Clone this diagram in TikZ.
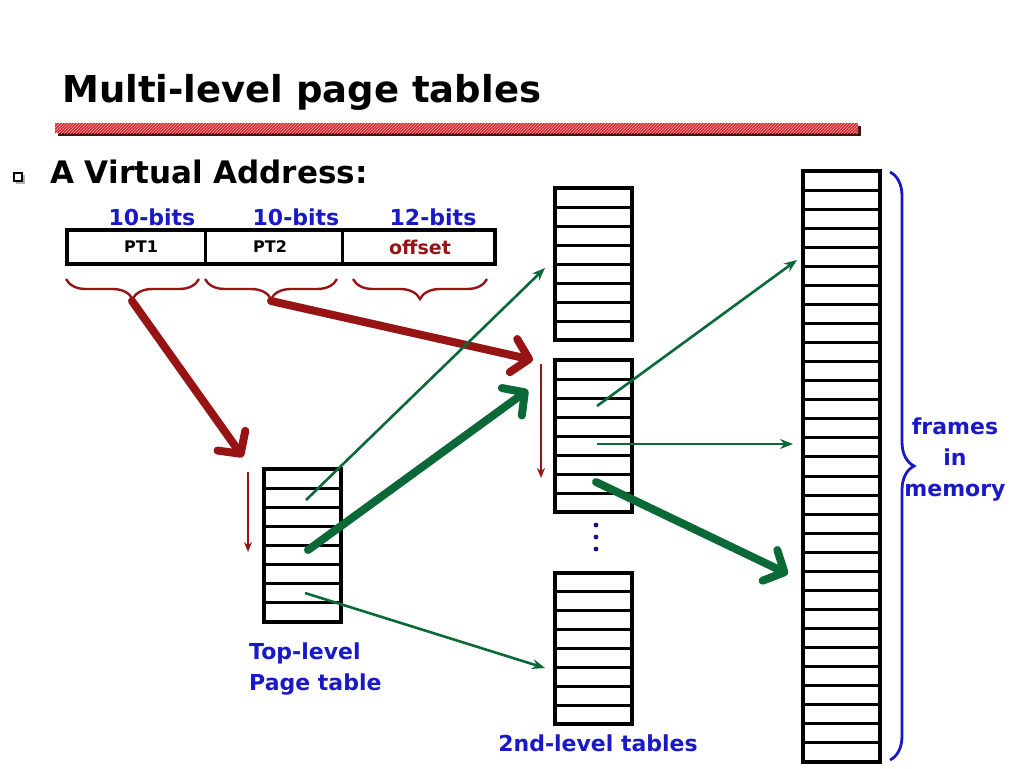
\documentclass[tikz,border=0pt]{standalone}
\usepackage{fontspec}
\setmainfont{DejaVu Sans}
\usetikzlibrary{arrows.meta,decorations.pathreplacing,patterns,calc}
\definecolor{dred}{RGB}{150,20,20}
\definecolor{dgreen}{RGB}{10,105,55}
\definecolor{lblue}{RGB}{25,25,200}
\definecolor{barred}{RGB}{205,45,50}
\definecolor{barpink}{RGB}{250,160,160}
\definecolor{barshadow}{RGB}{70,20,10}
\tikzset{
  tablebox/.style={draw, line width=3.4pt, inner sep=0pt, outer sep=0pt},
  rowline/.style={line width=3pt},
  thinred/.style={dred, line width=2.8pt, -{Stealth[length=10pt,width=8pt]}},
  thickred/.style={dred, line width=8pt, line cap=round, -{Straight Barb[length=16pt,width=34pt,round]}},
  thingreen/.style={dgreen, line width=2.6pt, -{Stealth[length=13pt,width=10pt]}},
  thickgreen/.style={dgreen, line width=8pt, line cap=round, -{Straight Barb[length=16pt,width=34pt,round]}},
  bluelabel/.style={text=lblue, font=\bfseries\fontsize{22}{31}\selectfont},
}
\newcommand\ptable[6]{%
  \node[tablebox, minimum width={(#4-#2)*1pt}, minimum height={(#5-#3)*1pt}] (#1) at ({(#2+#4)/2},{(#3+#5)/2}) {};
  \pgfmathtruncatemacro\nrowsm{#6-1}%
  \foreach \k in {1,...,\nrowsm} {
    \draw[rowline] ($(#1.north west)!\k/#6!(#1.south west)$) -- ($(#1.north east)!\k/#6!(#1.south east)$);
  }%
}
\begin{document}
\begin{tikzpicture}[x=1pt,y=-1pt]
\useasboundingbox (0,0) rectangle (1024,768);
\fill[white] (0,0) rectangle (1024,768);

% title
\node[anchor=base west, inner sep=0pt, font=\bfseries\fontsize{37}{42}\selectfont] (title) at (62,102) {Multi-level page tables};
\fill[barshadow] (58,126) rectangle (861,136);
\fill[barred] (55,123) rectangle (858,133);
\fill[pattern=north east lines, pattern color=barpink] (55,123) rectangle (858,133);

% bullet
\fill[gray!60] (16,175) rectangle (25,184);
\draw[line width=1.2pt, fill=white] (14,173) rectangle (22,181);
\node[anchor=base west, inner sep=0pt, font=\bfseries\fontsize{31}{34}\selectfont] (va) at (50,183) {A Virtual Address:};

% address box
\node[tablebox, minimum width=428pt, minimum height=34pt] (addr) at (281,247) {};
\draw[line width=3pt] (205,230) -- (205,264);
\draw[line width=3pt] (342,230) -- (342,264);
\node[font=\bfseries\fontsize{16}{20}\selectfont] (pt1) at (141,247) {PT1};
\node[font=\bfseries\fontsize{16}{20}\selectfont] (pt2) at (270,247) {PT2};
\node[font=\bfseries\fontsize{19}{22}\selectfont, text=dred] (off) at (420,247) {offset};
\node[bluelabel] (b1) at (152,217) {10-bits};
\node[bluelabel] (b2) at (296,217) {10-bits};
\node[bluelabel] (b3) at (433,217) {12-bits};

% red braces
\draw[dred, line width=2.4pt, decorate, decoration={brace, mirror, amplitude=20pt}] (66,279) -- (199,279);
\draw[dred, line width=2.4pt, decorate, decoration={brace, mirror, amplitude=20pt}] (205,279) -- (337,279);
\draw[dred, line width=2.4pt, decorate, decoration={brace, mirror, amplitude=20pt}] (353,279) -- (487,279);
\coordinate (br1) at (132,301);
\coordinate (br2) at (271,301);

% tables
\ptable{top}{264}{469}{341}{622}{8}
\ptable{sa}{555}{188}{632}{340}{8}
\ptable{sb}{555}{360}{632}{512}{8}
\ptable{sc}{555}{573}{632}{724}{8}
\ptable{mem}{803}{171}{880}{762}{31}

% dots
\foreach \yy in {525,537,549} \fill[lblue!70!black] (596,\yy) circle (2.4pt);

% labels
\node[bluelabel, anchor=west, align=left, inner sep=0pt] (toplbl) at (249,669) {Top-level\\Page table};
\node[bluelabel] (sndlbl) at (598,743) {2nd-level tables};
\node[bluelabel, align=center] (frm) at (955,460) {frames\\in\\memory};

% blue brace
\draw[lblue, line width=2.8pt, decorate, decoration={brace, amplitude=24pt}] (890,172) -- (890,760);

% red arrows
\coordinate (ra1) at (243,457);
\coordinate (ra2) at (533,360);
\draw[thickred] (br1) -- (ra1);
\draw[thickred] (br2) -- (ra2);
\coordinate (rt1s) at (248,472);
\coordinate (rt1e) at (248,552);
\coordinate (rt2s) at (541,364);
\coordinate (rt2e) at (541,478);
\draw[thinred] (rt1s) -- (rt1e);
\draw[thinred] (rt2s) -- (rt2e);

% green arrows
\coordinate (g1s) at (306,500);
\coordinate (g1e) at (545,268);
\coordinate (g2s) at (308,550);
\coordinate (g2e) at (528,390);
\coordinate (g3s) at (305,593);
\coordinate (g3e) at (545,668);
\coordinate (g4s) at (597,406);
\coordinate (g4e) at (797,260);
\coordinate (g5s) at (597,444);
\coordinate (g5e) at (793,444);
\coordinate (g6s) at (596,482);
\coordinate (g6e) at (788,574);
\draw[thingreen] (g1s) -- (g1e);
\draw[thickgreen] (g2s) -- (g2e);
\draw[thingreen] (g3s) -- (g3e);
\draw[thingreen] (g4s) -- (g4e);
\draw[thingreen] (g5s) -- (g5e);
\draw[thickgreen] (g6s) -- (g6e);
\end{tikzpicture}
\end{document}
